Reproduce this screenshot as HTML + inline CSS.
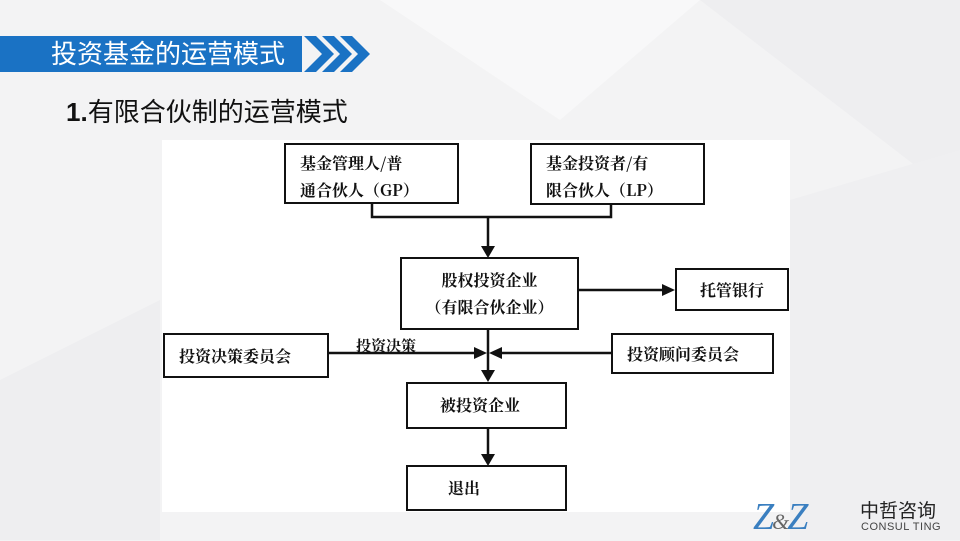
<!DOCTYPE html>
<html><head><meta charset="utf-8"><style>
body{margin:0;width:960px;height:540px;overflow:hidden;background:#f3f3f4;font-family:"Liberation Sans","Noto Sans CJK SC",sans-serif;position:relative}
.b{position:absolute;border:2.5px solid #111;background:#fff;box-sizing:border-box;font-family:"Noto Serif CJK SC","Liberation Serif",serif;font-weight:bold;font-size:16px;color:#111;line-height:27px}
</style></head><body>
<svg width="960" height="540" style="position:absolute;left:0;top:0">
<polygon points="380,0 700,0 560,120" fill="#f8f8f9"/>
<polygon points="700,0 960,0 960,200" fill="#eeeef0"/>
<polygon points="0,380 160,300 160,540 0,540" fill="#eeeef0"/>
<polygon points="790,200 960,150 960,540 790,540" fill="#efeff1"/>
<rect x="162" y="140" width="628" height="372" fill="#fff"/>
<rect x="0" y="36" width="302" height="36" fill="#1a72c4"/>
<polygon points="304,36 316,36 334,54 316,72 304,72 322,54" fill="#1a72c4"/>
<polygon points="322,36 334,36 352,54 334,72 322,72 340,54" fill="#1a72c4"/>
<polygon points="340,36 352,36 370,54 352,72 340,72 358,54" fill="#1a72c4"/>
<g stroke="#111" stroke-width="2.5" fill="none">
<polyline points="372,203 372,217 611,217 611,204"/>
<line x1="488" y1="217" x2="488" y2="248"/>
<line x1="578" y1="290" x2="664" y2="290"/>
<line x1="328" y1="353" x2="476" y2="353"/>
<line x1="611" y1="353" x2="500" y2="353"/>
<line x1="488" y1="329" x2="488" y2="372"/>
<line x1="488" y1="428" x2="488" y2="456"/>
</g>
<g fill="#111">
<polygon points="481,246 495,246 488,258"/>
<polygon points="662,284 662,296 675,290"/>
<polygon points="474,347 474,359 487,353"/>
<polygon points="502,347 502,359 489,353"/>
<polygon points="481,370 495,370 488,382"/>
<polygon points="481,454 495,454 488,466"/>
</g>
<text x="400" y="282" font-size="26" fill="#ccc" opacity="0.7" font-family="Noto Sans CJK SC">中哲咨询</text>
</svg>
<div style="position:absolute;left:51px;top:36px;height:36px;line-height:36px;color:#fff;font-size:26px">投资基金的运营模式</div>
<div style="position:absolute;left:66px;top:92px;color:#111;font-size:26px"><b>1.</b>有限合伙制的运营模式</div>
<div class="b" style="left:284px;top:143px;width:175px;height:61px;padding:4px 0 0 14px">基金管理人/普<br>通合伙人（GP）</div>
<div class="b" style="left:530px;top:143px;width:175px;height:62px;padding:4px 0 0 14px">基金投资者/有<br>限合伙人（LP）</div>
<div class="b" style="left:400px;top:257px;width:179px;height:73px;padding:7px 0 0 0;text-align:center">股权投资企业<br>（有限合伙企业）</div>
<div class="b" style="left:675px;top:268px;width:114px;height:43px;padding:6px 0 0 0;text-align:center">托管银行</div>
<div class="b" style="left:163px;top:333px;width:166px;height:45px;padding:7px 0 0 14px">投资决策委员会</div>
<div class="b" style="left:611px;top:333px;width:163px;height:41px;padding:5px 0 0 14px">投资顾问委员会</div>
<div style="position:absolute;left:356px;top:335px;font-family:'Noto Serif CJK SC',serif;font-weight:bold;font-size:15px;color:#111">投资决策</div>
<div class="b" style="left:406px;top:382px;width:161px;height:47px;padding:7px 0 0 32px">被投资企业</div>
<div class="b" style="left:406px;top:465px;width:161px;height:46px;padding:7px 0 0 40px">退出</div>
<div style="position:absolute;left:753px;top:498px;font-family:'Liberation Serif',serif;font-size:38px;line-height:38px;color:#3a7fc0;font-style:italic;letter-spacing:-2px">Z<span style="font-size:22px;color:#666">&amp;</span>Z</div>
<div style="position:absolute;left:860px;top:499px;font-size:19px;line-height:22px;color:#222;font-family:'Noto Sans CJK SC',sans-serif">中哲咨询</div>
<div style="position:absolute;left:861px;top:521px;font-size:11px;color:#444;letter-spacing:0.5px">CONSUL TING</div>
</body></html>
